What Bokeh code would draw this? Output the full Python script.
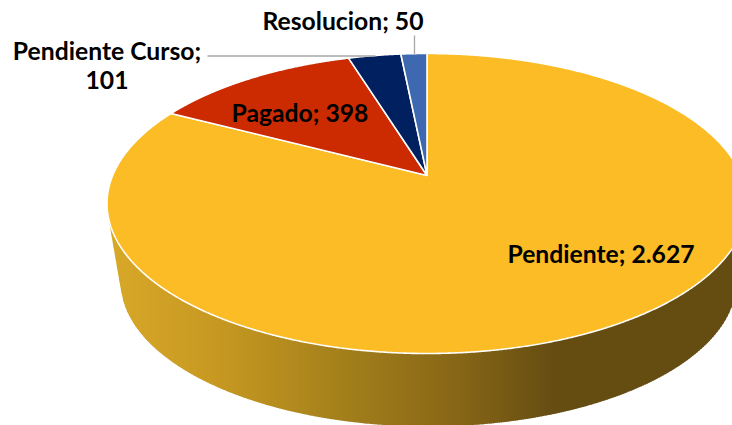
import numpy as np
from bokeh.plotting import figure
from bokeh.models import Range1d
from bokeh.core.properties import value
from bokeh.embed import file_html
from bokeh.resources import INLINE

# data
categories = ["Pendiente", "Pagado", "Pendiente Curso", "Resolucion"]
values = [2627, 398, 101, 50]
value_labels = ["2.627", "398", "101", "50"]
colors = ["#FBBC26", "#CC2A00", "#002060", "#3E68B0"]

# layout (page pixels)
CX, CY, RX, RY = 426.5, 203.0, 320.0, 150.0      # top face ellipse
BX, BY, BRX, BRY = 428.0, 281.0, 308.0, 145.0    # bottom rim ellipse
TILT = 0.187                                     # perspective shift of the apex
WALL_STOPS_X = [108, 220, 340, 460, 555, 732]
WALL_STOPS_C = [(216, 168, 40), (198, 152, 33), (164, 128, 27), (134, 101, 22), (101, 76, 17), (101, 76, 17)]


def disc_point(theta):
    """theta: clockwise from the top. Perspective map of the pie disc to the ellipse."""
    u, v = np.sin(theta), np.cos(theta)
    d = 1 + TILT * v
    return CX + RX * u * np.sqrt(1 - TILT ** 2) / d, CY - RY * (v + TILT) / d


p = figure(width=732, height=425, x_range=Range1d(0, 732), y_range=Range1d(425, 0),
           output_backend="svg", toolbar_location=None, min_border=0)
p.axis.visible = False
p.grid.visible = False
p.outline_line_color = None
p.background_fill_color = "#FFFFFF"

# side wall: lower hull of both rims, painted as thin vertical strips for the gradient
t = np.linspace(0, np.pi, 721)
hx = np.concatenate([CX - RX * np.cos(t), BX - BRX * np.cos(t)])
hy = np.concatenate([CY + RY * np.sin(t), BY + BRY * np.sin(t)])
order = np.argsort(hx)
hull = []
for q in zip(hx[order], hy[order]):
    while len(hull) >= 2:
        (x1, y1), (x2, y2) = hull[-2], hull[-1]
        if (x2 - x1) * (q[1] - y1) - (y2 - y1) * (q[0] - x1) >= 0:
            hull.pop()
        else:
            break
    hull.append(q)
hull = np.array(hull)

edges = np.arange(CX - RX, 740, 2.0)
xs, ys, cs = [], [], []
for a in edges:
    b = a + 2.6
    ya, yb = np.interp([a, b], hull[:, 0], hull[:, 1])
    mid = a + 1.0
    rgb = [int(round(np.interp(mid, WALL_STOPS_X, [c[i] for c in WALL_STOPS_C]))) for i in range(3)]
    xs.append([a, b, b, a])
    ys.append([CY, CY, yb, ya])
    cs.append("#%02X%02X%02X" % tuple(rgb))
p.patches(xs, ys, fill_color=cs, line_color=None)

# top face
total = sum(values)
start = 0.0
apex = (CX, CY - RY * TILT)
for val, col in zip(values, colors):
    sweep = 2 * np.pi * val / total
    th = np.linspace(start, start + sweep, max(int(val / 2), 24))
    ex, ey = disc_point(th)
    p.patch(np.r_[apex[0], ex], np.r_[apex[1], ey], fill_color=col, line_color="#FFFFFF", line_width=1.6)
    start += sweep

# leader lines
p.segment([207, 414], [55.5, 35], [375, 414], [55.5, 54], line_color="#A6A6A6", line_width=1.3)

# labels
label_x = [600.5, 299.5, 106.5, 342.5]
label_y = [252.5, 112, 49.5, 20]
texts = [f"{c}; {v}" for c, v in zip(categories, value_labels)]
texts[2] = "Pendiente Curso;"
p.text(label_x, label_y, text=texts, text_font=value("Lato"), text_font_style="bold",
       text_font_size="24.7px", text_color="#000000", text_align="center", text_baseline="middle")
p.text([106.5], [79.5], text=["101"], text_font=value("Lato"), text_font_style="bold",
       text_font_size="24.7px", text_color="#000000", text_align="center", text_baseline="middle")

open("out.html", "w").write(file_html(p, INLINE))
